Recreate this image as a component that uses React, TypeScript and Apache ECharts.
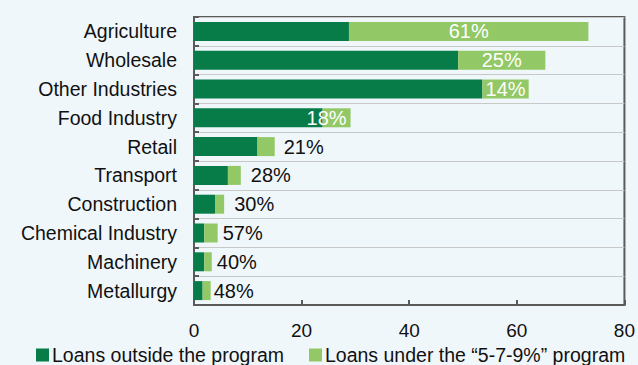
import React, { useEffect, useRef } from "react";
import * as echarts from "echarts";

const categories = [
  "Agriculture",
  "Wholesale",
  "Other Industries",
  "Food Industry",
  "Retail",
  "Transport",
  "Construction",
  "Chemical Industry",
  "Machinery",
  "Metallurgy",
];
const outsideProgram = [28.8, 49.1, 53.6, 23.9, 11.8, 6.3, 3.9, 1.9, 1.9, 1.6];
const underProgram = [44.5, 16.2, 8.6, 5.2, 3.2, 2.4, 1.7, 2.5, 1.4, 1.5];
const shareLabels = [61, 25, 14, 18, 21, 28, 30, 57, 40, 48];
const xTicks = { min: 0, max: 80, interval: 20 };
const seriesNames = ["Loans outside the program", "Loans under the \u201c5-7-9%\u201d program"];

const DARK = "#077C48";
const LIGHT = "#92C865";
const FONT = "'Liberation Sans', Arial, sans-serif";
const insideCount = 4;
const outsideDistances = [9, 10, 10, 5, 5, 3];

export default function App() {
  const ref = useRef<HTMLDivElement>(null);
  useEffect(() => {
    if (!ref.current) return;
    const chart = echarts.init(ref.current, null, { renderer: "svg" });
    const lightData = underProgram.map((v, i) => {
      const inside = i < insideCount;
      return {
        value: v,
        label: inside
          ? {
              show: true,
              position: "inside",
              color: "#ffffff",
              offset: i === 3 ? [-10, 0] : [0, 0],
              formatter: () => shareLabels[i] + "%",
            }
          : {
              show: true,
              position: "right",
              distance: outsideDistances[i - insideCount],
              color: "#111111",
              formatter: () => shareLabels[i] + "%",
            },
      };
    });
    chart.setOption({
      animation: false,
      backgroundColor: "#F0F7FB",
      textStyle: { fontFamily: FONT },
      grid: {
        left: 194,
        right: 12,
        top: 17,
        bottom: 60,
        show: true,
        borderColor: "#5a5a5a",
        borderWidth: 2,
        backgroundColor: "transparent",
      },
      legend: {
        left: 36,
        top: 345,
        width: 602,
        padding: 0,
        itemWidth: 13,
        itemHeight: 13,
        itemGap: 25,
        icon: "rect",
        textStyle: { fontSize: 19.5, color: "#111111", fontFamily: FONT, padding: [0, 0, 0, -2] },
        data: seriesNames,
      },
      xAxis: {
        type: "value",
        min: xTicks.min,
        max: xTicks.max,
        interval: xTicks.interval,
        axisLine: { show: true, lineStyle: { color: "#5a5a5a", width: 2 } },
        axisTick: { show: true, inside: true, length: 5, lineStyle: { color: "#5a5a5a", width: 2 } },
        axisLabel: { fontSize: 19, color: "#111111", margin: 16, fontFamily: FONT },
        splitLine: { show: false },
      },
      yAxis: {
        type: "category",
        inverse: true,
        data: categories,
        axisLine: { show: true, lineStyle: { color: "#5a5a5a", width: 2 } },
        axisTick: { show: true, inside: true, length: 5, lineStyle: { color: "#5a5a5a", width: 2 } },
        axisLabel: { fontSize: 19.5, color: "#111111", margin: 17, fontFamily: FONT },
        splitLine: { show: true, lineStyle: { color: "#c8c8c8", width: 1 } },
      },
      series: [
        {
          name: seriesNames[0],
          type: "bar",
          stack: "total",
          barWidth: 19,
          itemStyle: { color: DARK },
          data: outsideProgram,
        },
        {
          name: seriesNames[1],
          type: "bar",
          stack: "total",
          barWidth: 19,
          itemStyle: { color: LIGHT },
          label: { fontSize: 20, fontFamily: FONT },
          data: lightData,
        },
      ],
    });
    return () => chart.dispose();
  }, []);
  return (
    <div
      ref={ref}
      style={{ position: "fixed", left: 0, top: 0, width: 638, height: 365 }}
    />
  );
}
